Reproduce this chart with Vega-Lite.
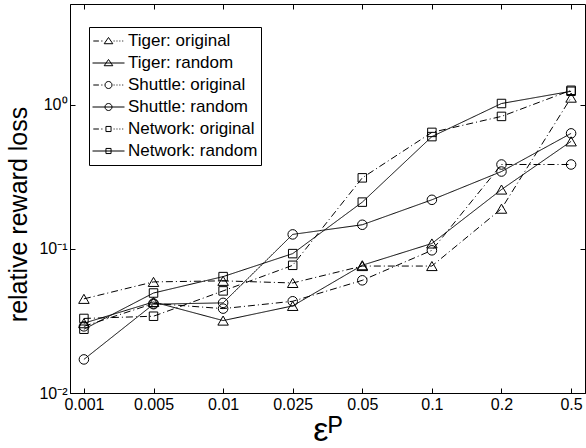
{
  "$schema": "https://vega.github.io/schema/vega-lite/v6.json",
  "width": 515,
  "height": 389,
  "autosize": {"type": "none"},
  "padding": {"left": 70, "top": 4, "right": 1, "bottom": 55},
  "background": "white",
  "config": {
    "view": {"stroke": "black", "strokeWidth": 1},
    "font": "Liberation Sans",
    "axis": {
      "domainColor": "black", "tickColor": "black", "labelColor": "black", "titleColor": "black",
      "labelFont": "Liberation Sans", "titleFont": "Liberation Sans", "titleFontWeight": "normal",
      "grid": false, "tickSize": -5, "labelFontSize": 16
    },
    "legend": {"labelFont": "Liberation Sans"}
  },
  "data": {"values": [
    {"eps": "0.001", "series": "Tiger: original", "dataset": "Tiger", "style": "original", "value": 0.045},
    {"eps": "0.005", "series": "Tiger: original", "dataset": "Tiger", "style": "original", "value": 0.059},
    {"eps": "0.01", "series": "Tiger: original", "dataset": "Tiger", "style": "original", "value": 0.06},
    {"eps": "0.025", "series": "Tiger: original", "dataset": "Tiger", "style": "original", "value": 0.058},
    {"eps": "0.05", "series": "Tiger: original", "dataset": "Tiger", "style": "original", "value": 0.076},
    {"eps": "0.1", "series": "Tiger: original", "dataset": "Tiger", "style": "original", "value": 0.076},
    {"eps": "0.2", "series": "Tiger: original", "dataset": "Tiger", "style": "original", "value": 0.19},
    {"eps": "0.5", "series": "Tiger: original", "dataset": "Tiger", "style": "original", "value": 1.12},
    {"eps": "0.001", "series": "Tiger: random", "dataset": "Tiger", "style": "random", "value": 0.0305},
    {"eps": "0.005", "series": "Tiger: random", "dataset": "Tiger", "style": "random", "value": 0.0428},
    {"eps": "0.01", "series": "Tiger: random", "dataset": "Tiger", "style": "random", "value": 0.0318},
    {"eps": "0.025", "series": "Tiger: random", "dataset": "Tiger", "style": "random", "value": 0.0402},
    {"eps": "0.05", "series": "Tiger: random", "dataset": "Tiger", "style": "random", "value": 0.077},
    {"eps": "0.1", "series": "Tiger: random", "dataset": "Tiger", "style": "random", "value": 0.109},
    {"eps": "0.2", "series": "Tiger: random", "dataset": "Tiger", "style": "random", "value": 0.258},
    {"eps": "0.5", "series": "Tiger: random", "dataset": "Tiger", "style": "random", "value": 0.557},
    {"eps": "0.001", "series": "Shuttle: original", "dataset": "Shuttle", "style": "original", "value": 0.029},
    {"eps": "0.005", "series": "Shuttle: original", "dataset": "Shuttle", "style": "original", "value": 0.0418},
    {"eps": "0.01", "series": "Shuttle: original", "dataset": "Shuttle", "style": "original", "value": 0.0385},
    {"eps": "0.025", "series": "Shuttle: original", "dataset": "Shuttle", "style": "original", "value": 0.0433},
    {"eps": "0.05", "series": "Shuttle: original", "dataset": "Shuttle", "style": "original", "value": 0.0605},
    {"eps": "0.1", "series": "Shuttle: original", "dataset": "Shuttle", "style": "original", "value": 0.0977},
    {"eps": "0.2", "series": "Shuttle: original", "dataset": "Shuttle", "style": "original", "value": 0.385},
    {"eps": "0.5", "series": "Shuttle: original", "dataset": "Shuttle", "style": "original", "value": 0.385},
    {"eps": "0.001", "series": "Shuttle: random", "dataset": "Shuttle", "style": "random", "value": 0.0171},
    {"eps": "0.005", "series": "Shuttle: random", "dataset": "Shuttle", "style": "random", "value": 0.0413},
    {"eps": "0.01", "series": "Shuttle: random", "dataset": "Shuttle", "style": "random", "value": 0.0422},
    {"eps": "0.025", "series": "Shuttle: random", "dataset": "Shuttle", "style": "random", "value": 0.126},
    {"eps": "0.05", "series": "Shuttle: random", "dataset": "Shuttle", "style": "random", "value": 0.147},
    {"eps": "0.1", "series": "Shuttle: random", "dataset": "Shuttle", "style": "random", "value": 0.219},
    {"eps": "0.2", "series": "Shuttle: random", "dataset": "Shuttle", "style": "random", "value": 0.344},
    {"eps": "0.5", "series": "Shuttle: random", "dataset": "Shuttle", "style": "random", "value": 0.633},
    {"eps": "0.001", "series": "Network: original", "dataset": "Network", "style": "original", "value": 0.0329},
    {"eps": "0.005", "series": "Network: original", "dataset": "Network", "style": "original", "value": 0.0341},
    {"eps": "0.01", "series": "Network: original", "dataset": "Network", "style": "original", "value": 0.0511},
    {"eps": "0.025", "series": "Network: original", "dataset": "Network", "style": "original", "value": 0.0769},
    {"eps": "0.05", "series": "Network: original", "dataset": "Network", "style": "original", "value": 0.311},
    {"eps": "0.1", "series": "Network: original", "dataset": "Network", "style": "original", "value": 0.643},
    {"eps": "0.2", "series": "Network: original", "dataset": "Network", "style": "original", "value": 0.83},
    {"eps": "0.5", "series": "Network: original", "dataset": "Network", "style": "original", "value": 1.26},
    {"eps": "0.001", "series": "Network: random", "dataset": "Network", "style": "random", "value": 0.0277},
    {"eps": "0.005", "series": "Network: random", "dataset": "Network", "style": "random", "value": 0.0494},
    {"eps": "0.01", "series": "Network: random", "dataset": "Network", "style": "random", "value": 0.0642},
    {"eps": "0.025", "series": "Network: random", "dataset": "Network", "style": "random", "value": 0.0927},
    {"eps": "0.05", "series": "Network: random", "dataset": "Network", "style": "random", "value": 0.211},
    {"eps": "0.1", "series": "Network: random", "dataset": "Network", "style": "random", "value": 0.601},
    {"eps": "0.2", "series": "Network: random", "dataset": "Network", "style": "random", "value": 1.02},
    {"eps": "0.5", "series": "Network: random", "dataset": "Network", "style": "random", "value": 1.24}
  ]},
  "resolve": {
    "scale": {"shape": "independent", "size": "independent"},
    "axis": {"x": "independent", "y": "independent"},
    "legend": {"shape": "independent"}
  },
  "layer": [
    {
      "mark": {"type": "line", "color": "black", "strokeWidth": 1},
      "encoding": {
        "x": {"field": "eps", "type": "ordinal",
          "scale": {"type": "point", "padding": 0.2, "domain": ["0.001", "0.005", "0.01", "0.025", "0.05", "0.1", "0.2", "0.5"]},
          "axis": {"title": "εᴾ", "titleFontSize": 34, "labelAngle": 0, "labelPadding": 8, "titlePadding": 1}},
        "y": {"field": "value", "type": "quantitative",
          "scale": {"type": "log", "domain": [0.01, 5], "nice": false, "zero": false},
          "axis": {"title": "relative reward loss", "titleFontSize": 25, "titleY": 210, "values": [0.01, 0.1, 1], "labelPadding": 8, "titlePadding": 7,
            "labelExpr": "datum.value == 1 ? '10⁰' : (datum.value == 0.1 ? '10⁻¹' : '10⁻²')"}},
        "detail": {"field": "series"},
        "strokeDash": {"field": "style", "type": "nominal",
          "scale": {"domain": ["original", "random"], "range": [[7, 3, 1, 3], [1, 0]]}, "legend": null}
      }
    },
    {
      "mark": {"type": "point", "filled": false, "color": "black", "strokeWidth": 1, "opacity": 1},
      "encoding": {
        "x": {"field": "eps", "type": "ordinal", "axis": null},
        "y": {"field": "value", "type": "quantitative", "axis": null},
        "shape": {"field": "dataset", "type": "nominal",
          "scale": {"domain": ["Tiger", "Shuttle", "Network"], "range": ["triangle-up", "circle", "square"]}, "legend": null},
        "size": {"field": "dataset", "type": "nominal",
          "scale": {"domain": ["Tiger", "Shuttle", "Network"], "range": [110, 72, 45]}, "legend": null}
      }
    },
    {
      "transform": [{"filter": "datum.value < 0"}],
      "mark": {"type": "point", "filled": false, "color": "black", "strokeWidth": 1, "opacity": 1},
      "encoding": {
        "x": {"field": "eps", "type": "ordinal",
          "axis": {"orient": "top", "labels": false, "title": null, "domain": false}},
        "y": {"field": "value", "type": "quantitative",
          "axis": {"orient": "right", "labels": false, "title": null, "domain": false, "values": [0.01, 0.1, 1]}},
        "shape": {"field": "series", "type": "nominal",
          "scale": {
            "domain": ["Tiger: original", "Tiger: random", "Shuttle: original", "Shuttle: random", "Network: original", "Network: random"],
            "range": [
              "M-0.95,0H-0.6M-0.45,0H-0.38M0.32,0H0.38M0.5,0H0.56M0.68,0H0.74M0.86,0H0.92M0,-0.22L0.27,0.17L-0.27,0.17Z",
              "M-1,0H1M0,-0.22L0.27,0.17L-0.27,0.17Z",
              "M-0.95,0H-0.6M-0.45,0H-0.38M0.32,0H0.38M0.5,0H0.56M0.68,0H0.74M0.86,0H0.92M0.22,0A0.22,0.22,0,1,1,-0.22,0A0.22,0.22,0,1,1,0.22,0Z",
              "M-1,0H1M0.22,0A0.22,0.22,0,1,1,-0.22,0A0.22,0.22,0,1,1,0.22,0Z",
              "M-0.95,0H-0.6M-0.45,0H-0.38M0.32,0H0.38M0.5,0H0.56M0.68,0H0.74M0.86,0H0.92M-0.16,-0.16H0.16V0.16H-0.16Z",
              "M-1,0H1M-0.16,-0.16H0.16V0.16H-0.16Z"
            ]},
          "legend": {
            "title": null, "orient": "none", "legendX": 19, "legendY": 23,
            "symbolSize": 1024, "clipHeight": 22, "rowPadding": 0, "padding": 3,
            "labelFontSize": 17, "labelColor": "black", "labelOffset": 3, "labelLimit": 400,
            "symbolStrokeColor": "black", "symbolFillColor": "transparent", "symbolStrokeWidth": 1,
            "strokeColor": "black", "fillColor": "white"
          }
        }
      }
    }
  ]
}
